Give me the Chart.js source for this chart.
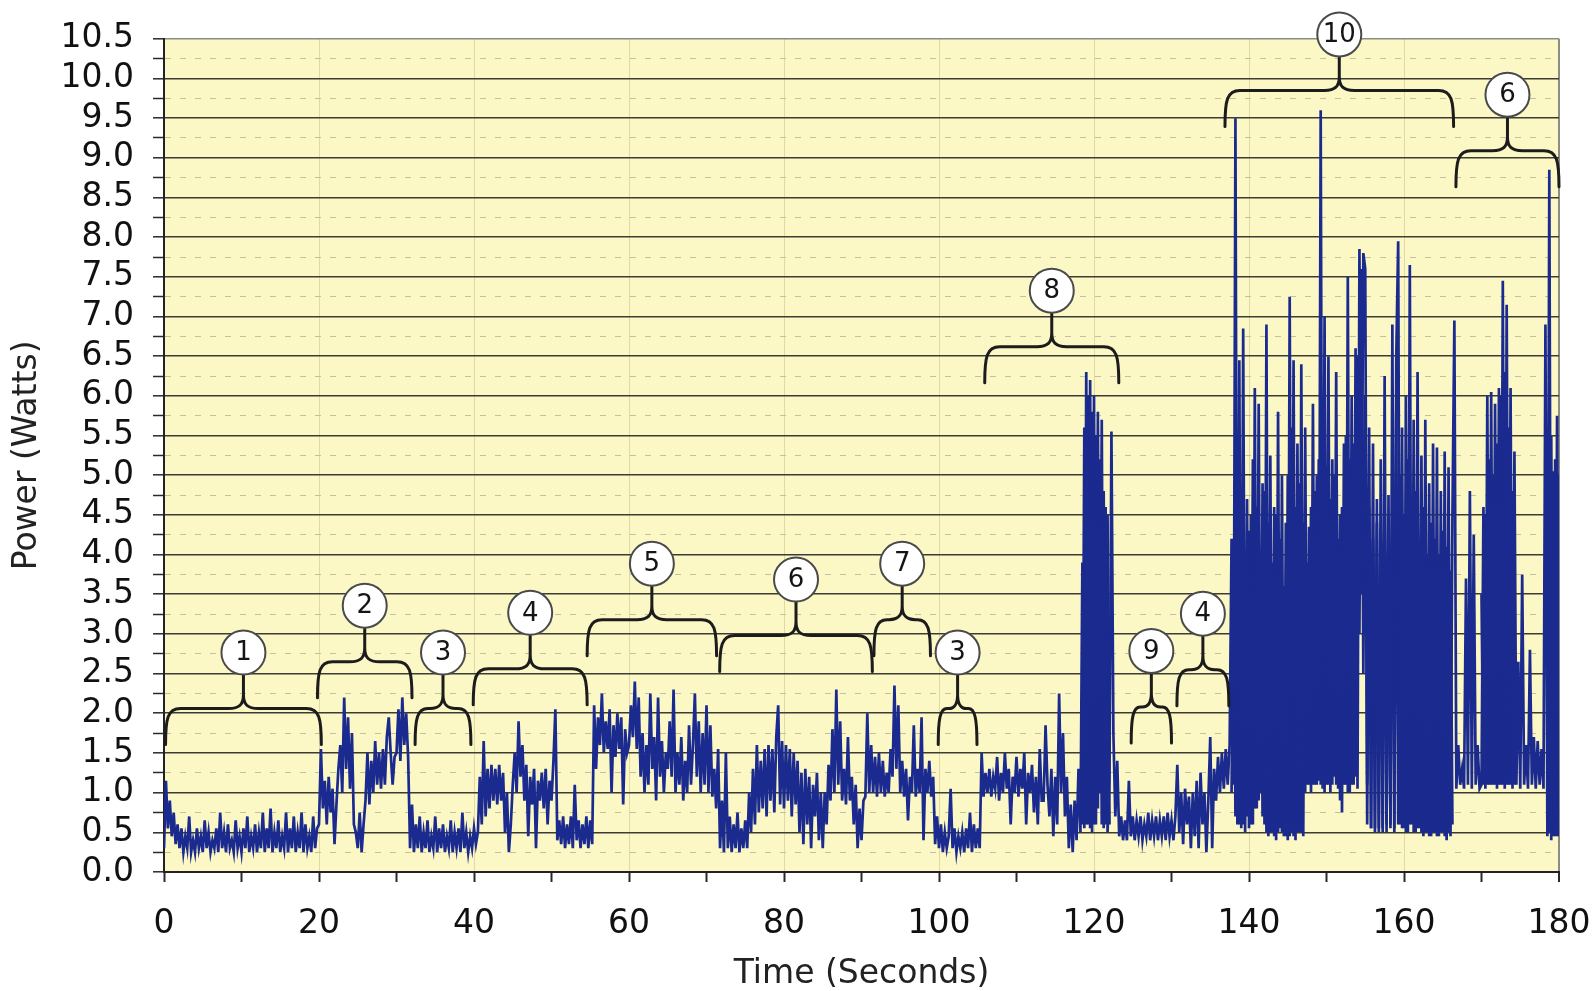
<!DOCTYPE html>
<html>
<head>
<meta charset="utf-8">
<title>Power trace</title>
<script src="https://cdn.jsdelivr.net/npm/chart.js@4.4.1/dist/chart.umd.min.js"></script>
<style>
  html, body { margin: 0; padding: 0; background: #ffffff; }
  #wrap { width: 1593px; height: 991px; position: relative; }
</style>
</head>
<body>
<div id="wrap"><canvas id="powerChart"></canvas></div>
<script>
// sampled power readings, one row per 5 seconds, 4 samples per second
const sampleStep = 0.25;
const blockSeconds = 5;
const powerBlocks = [
  [0.30,1.15,0.55,0.90,0.45,0.75,0.35,0.60,0.30,0.55,0.25,0.45,0.30,0.70,0.25,0.40,0.25,0.55,0.30,0.45],
  [0.25,0.65,0.30,0.50,0.25,0.40,0.30,0.55,0.25,0.75,0.30,0.50,0.25,0.60,0.30,0.40,0.25,0.65,0.30,0.45],
  [0.25,0.55,0.30,0.70,0.25,0.45,0.30,0.60,0.25,0.50,0.30,0.75,0.25,0.55,0.30,0.80,0.25,0.50,0.30,0.65],
  [0.25,0.45,0.30,0.75,0.25,0.55,0.30,0.70,0.25,0.50,0.30,0.75,0.25,0.60,0.30,0.45,0.25,0.70,0.30,0.55],
  [0.60,1.55,0.80,1.15,0.60,1.20,0.75,1.05,0.35,0.85,1.30,1.60,1.00,2.20,1.30,1.95,1.05,1.75,0.60,0.50],
  [0.30,0.75,0.25,0.60,0.90,1.50,0.85,1.40,1.00,1.65,1.10,1.50,1.05,1.55,1.10,1.70,1.95,1.50,1.10,1.45],
  [1.50,2.05,1.40,2.20,1.60,2.00,1.45,0.30,0.85,0.25,0.60,0.30,0.70,0.25,0.50,0.30,0.65,0.25,0.45,0.30],
  [0.70,0.25,0.55,0.30,0.60,0.25,0.45,0.30,0.65,0.25,0.50,0.30,0.55,0.25,0.75,0.30,0.50,0.25,0.45,0.30],
  [0.55,0.35,0.50,1.20,0.60,1.65,0.70,1.30,0.80,1.35,0.90,1.30,0.85,1.35,0.90,1.25,0.50,1.00,0.25,0.60],
  [1.10,1.50,1.00,1.90,1.20,1.60,0.90,1.35,0.45,1.20,0.85,1.30,0.30,1.15,0.90,1.25,0.80,1.30,0.60,1.15],
  [0.90,1.40,2.05,0.40,0.65,0.35,0.70,0.30,0.60,0.35,0.70,0.30,1.10,0.40,0.65,0.30,0.60,0.35,0.70,0.30],
  [0.65,0.35,2.10,1.30,1.95,1.60,2.25,1.50,1.90,1.55,2.05,1.00,1.85,1.45,2.00,1.55,1.95,0.85,1.80,1.50],
  [1.60,2.10,1.70,2.40,1.55,2.20,1.20,1.75,1.00,1.60,1.10,2.25,1.30,1.70,0.90,2.20,1.20,1.65,1.00,1.50],
  [1.30,1.90,1.20,2.30,1.00,1.50,1.10,1.70,0.90,1.40,1.00,1.85,1.10,1.60,2.25,1.20,1.90,1.00,1.75,1.10],
  [2.10,1.00,1.85,0.95,1.30,0.80,1.55,0.30,0.90,0.25,1.50,0.30,0.70,0.25,0.60,0.30,0.75,0.25,0.55,0.30],
  [0.65,0.30,1.00,0.50,1.30,0.60,1.60,0.75,1.40,0.80,1.55,0.70,1.60,0.90,1.55,0.75,1.70,2.10,0.85,1.65],
  [0.80,1.60,0.90,1.55,0.70,1.50,0.85,1.40,0.50,1.25,0.35,1.30,0.60,1.20,0.30,1.10,0.70,1.25,0.40,1.00],
  [0.30,1.00,0.60,1.35,0.90,1.80,1.00,2.30,1.10,1.90,0.90,1.30,0.85,1.70,0.90,1.20,0.60,1.10,0.30,0.80],
  [0.40,0.90,0.95,2.00,1.00,1.60,1.00,1.45,0.95,1.50,1.00,1.40,0.95,1.25,1.00,1.55,1.20,2.35,1.30,2.10],
  [1.00,1.40,0.95,1.30,0.65,1.20,1.00,1.85,0.95,1.30,1.00,1.95,0.40,1.30,1.00,1.40,0.95,1.20,0.35,0.70],
  [0.30,0.60,0.25,0.50,0.30,0.45,1.05,0.30,0.55,0.25,0.45,0.30,0.50,0.25,0.55,0.30,0.75,0.25,0.60,0.30],
  [0.55,0.30,1.50,0.95,1.25,1.00,1.30,0.95,1.20,1.05,1.45,0.90,1.25,1.00,1.50,1.05,1.30,0.60,1.20,1.00],
  [1.45,0.95,1.30,1.05,1.50,0.60,1.25,1.00,1.35,0.75,1.20,0.60,1.55,0.90,0.90,1.85,1.10,0.70,1.30,0.45],
  [1.20,0.60,2.25,1.00,1.75,0.70,1.20,0.30,0.85,0.25,0.90,0.40,1.30,0.50,3.90,0.55,6.30,0.60,6.20,0.50],
  [6.00,0.60,5.80,1.00,5.70,0.55,4.60,0.50,1.20,5.55,1.75,0.70,1.40,0.45,0.70,0.40,0.65,0.40,1.15,0.45],
  [0.70,0.40,0.65,0.45,0.70,0.40,0.60,0.45,0.75,0.40,0.65,0.45,0.70,0.40,0.65,0.45,0.70,0.40,0.75,0.45],
  [0.65,0.40,0.70,1.35,0.50,1.00,0.35,1.05,0.60,0.95,0.30,1.00,0.45,1.15,0.30,1.25,0.60,1.00,0.25,0.90],
  [1.70,0.30,1.30,0.90,1.45,1.00,1.50,1.05,1.55,1.10,1.60,4.20,1.10,9.50,0.60,6.45,0.55,6.85,0.50,4.70],
  [0.55,4.50,0.60,6.10,0.80,5.90,1.00,4.90,0.60,6.90,0.45,5.25,0.50,4.60,0.40,5.80,0.55,5.00,0.45,4.40],
  [0.40,7.25,0.50,6.45,0.40,5.40,0.50,6.40,0.45,5.60,1.10,4.35,1.00,5.90,1.10,5.00,1.15,9.60,1.05,7.00],
  [1.10,6.50,1.00,5.20,1.20,6.30,1.05,4.50,0.75,5.40,1.10,7.50,1.00,6.00,1.10,6.60,1.05,7.85,3.50,7.80],
  [7.60,1.10,5.60,0.55,5.40,0.50,4.70,0.55,5.20,0.50,6.25,0.60,4.75,0.55,6.90,0.50,6.50,7.95,0.60,5.60],
  [0.55,6.00,0.50,7.65,0.60,5.70,0.50,6.30,0.55,5.25,0.45,5.70,0.50,4.90,0.45,5.40,0.50,5.35,0.45,4.80],
  [0.50,5.30,0.40,5.10,0.45,4.50,6.95,1.05,1.60,1.10,1.30,1.05,3.70,1.10,4.80,1.05,4.25,1.10,1.60,1.05],
  [1.10,4.60,1.05,6.00,1.10,6.05,1.10,5.90,1.05,6.10,1.10,7.45,1.05,7.15,1.10,6.10,1.05,5.30,1.10,2.65],
  [1.05,3.75,1.10,1.60,1.05,2.80,1.10,1.70,1.05,1.65,1.10,1.55,1.05,6.90,0.45,8.85,0.40,5.05,0.45,5.75,0.45]
];

// extra readings inside the dense bursts (same 0.25 s grid, opposite phase)
const burst8Start = 118.5;
const burst8Power = [0.60,5.60,0.60,6.00,0.55,5.80,0.60,5.50,0.80,5.20,0.60,4.80,0.60,4.50,0.60];
const burst10Start = 137.75;
const burst10Power = [
  1.00,4.00,0.70,5.00,0.60,4.20,0.60,3.80,0.70,4.30,
  0.60,5.20,0.80,4.60,0.90,3.90,0.70,4.80,0.50,4.40,
  0.50,3.90,0.45,4.50,0.50,4.20,0.50,3.60,0.45,5.00,
  0.45,5.60,0.45,4.60,0.50,4.90,0.50,4.40,1.00,3.90,
  1.10,4.60,1.10,4.80,1.10,5.20,1.10,5.60,1.00,5.10,
  1.10,4.70,1.10,5.00,1.10,4.20,0.90,4.60,1.10,5.50,
  1.00,5.20,1.10,5.40,1.20,6.50,3.00,7.60,2.50,6.00,
  0.60,4.60,0.55,4.20,0.55,4.40,0.50,4.00,0.55,4.60,
  0.50,4.30,0.60,5.20,0.55,5.80,0.60,5.00,0.55,4.50,
  0.50,5.20,0.60,4.40,0.50,4.80,0.55,4.10,0.50,4.60,
  0.50,4.00,0.45,4.40,0.50,4.20,0.45,4.00,0.50,4.30,
  0.45,4.10,0.50,3.80,0.60
];
const burst6Start = 170.0;
const burst6Power = [
  3.50,1.10,4.50,1.10,5.20,1.10,5.00,1.10,5.40,1.10,6.00,1.10,6.30,1.10,5.60,1.10,4.80,1.10,2.40,
  null,null,null,null,null,null,null,null,null,null,null,null,null,null,null,
  5.00,0.50,5.50,0.45,5.20,0.45,5.00
];

// numbered activity phases (seconds) and the power level of each brace
const braceLabels = ['1', '2', '3', '4', '5', '6', '7', '3', '8', '9', '4', '10', '6'];
const braceStart  = [0.2, 19.8, 32.4, 39.9, 54.6, 71.7, 91.6, 99.9, 105.9, 124.8, 130.7, 136.9, 166.7];
const braceEnd    = [20.3, 32.0, 39.6, 54.6, 71.3, 91.4, 98.9, 104.9, 123.2, 130.0, 137.4, 166.4, 180.0];
const braceLevel  = [2.06, 2.65, 2.06, 2.56, 3.18, 2.98, 3.18, 2.06, 6.62, 2.08, 2.55, 9.85, 9.09];

const points = [];
powerBlocks.forEach((row, b) => {
  row.forEach((w, j) => points.push({ x: b * blockSeconds + j * sampleStep, y: w }));
});
const toPoints = (start, vals) => vals.map((w, j) => ({ x: start + j * sampleStep, y: w }));

const isHalf = v => Math.round(v * 4) % 2 === 0;
const traceColor = '#1b2a8e';
const traceStyle = { borderColor: traceColor, borderWidth: 2.7, pointRadius: 0, tension: 0, fill: false };

// yellow plot background
const plotBg = {
  id: 'plotBg',
  beforeDraw(chart) {
    const { ctx, chartArea: a } = chart;
    ctx.save();
    ctx.fillStyle = '#fcf8c6';
    ctx.fillRect(a.left, a.top, a.right - a.left, a.bottom - a.top);
    ctx.restore();
  }
};

// curly braces + numbered bubbles
const braces = {
  id: 'braces',
  afterDraw(chart) {
    const { ctx, scales: { x, y } } = chart;
    ctx.save();
    braceLabels.forEach((label, i) => {
      const x1 = x.getPixelForValue(braceStart[i]);
      const x2 = x.getPixelForValue(braceEnd[i]);
      const xm = (x1 + x2) / 2;
      const r = Math.min(15, (x2 - x1) / 4 - 1);
      const yb = y.getPixelForValue(braceLevel[i]);
      const yl = yb + 36;
      const yt = yb - 35;
      ctx.beginPath();
      ctx.moveTo(x1, yl);
      ctx.bezierCurveTo(x1, yb + 10, x1 + 2, yb, x1 + r, yb);
      ctx.lineTo(xm - r, yb);
      ctx.bezierCurveTo(xm - 4, yb, xm, yb - 4, xm, yb - 14);
      ctx.lineTo(xm, yt);
      ctx.moveTo(xm, yb - 14);
      ctx.bezierCurveTo(xm, yb - 4, xm + 4, yb, xm + r, yb);
      ctx.lineTo(x2 - r, yb);
      ctx.bezierCurveTo(x2 - 2, yb, x2, yb + 10, x2, yl);
      ctx.lineWidth = 3;
      ctx.lineCap = 'round';
      ctx.lineJoin = 'round';
      ctx.strokeStyle = '#1c1c1c';
      ctx.stroke();

      const cy = yt - 21;
      ctx.beginPath();
      ctx.arc(xm, cy, 22, 0, Math.PI * 2);
      ctx.fillStyle = '#ffffff';
      ctx.fill();
      ctx.lineWidth = 2;
      ctx.strokeStyle = '#4a4a4a';
      ctx.stroke();
      ctx.fillStyle = '#151515';
      ctx.font = '26px "DejaVu Sans"';
      ctx.textAlign = 'center';
      ctx.textBaseline = 'middle';
      ctx.fillText(label, xm, cy + 1);
    });
    ctx.restore();
  }
};

const ctx = document.getElementById('powerChart').getContext('2d');
const powerChart = new Chart(ctx, {
  type: 'line',
  data: {
    datasets: [
      { label: 'Power', data: points, ...traceStyle },
      { label: 'Burst 8', data: toPoints(burst8Start, burst8Power), ...traceStyle },
      { label: 'Burst 10', data: toPoints(burst10Start, burst10Power), ...traceStyle },
      { label: 'Burst 6', data: toPoints(burst6Start, burst6Power), ...traceStyle }
    ]
  },
  options: {
    responsive: true,
    maintainAspectRatio: false,
    animation: false,
    layout: { padding: { top: 31, right: 34, left: 0, bottom: 0 } },
    plugins: {
      legend: { display: false },
      tooltip: { enabled: false }
    },
    scales: {
      x: {
        type: 'linear',
        min: 0,
        max: 180,
        afterFit: s => { s.height = 119; s.paddingRight = 0; s.paddingLeft = 0; },
        ticks: {
          stepSize: 10,
          autoSkip: false,
          maxRotation: 0,
          padding: 23,
          color: '#111',
          font: { family: 'DejaVu Sans', size: 33 },
          callback: v => (v % 20 === 0 ? String(v) : '')
        },
        grid: {
          color: c => {
            if (!c.tick) return 'rgba(0,0,0,0)';
            if (c.tick.value === 180) return '#8c8c84';
            return (c.tick.value % 20 === 0 && c.tick.value > 0) ? 'rgba(190,180,120,0.45)' : 'rgba(0,0,0,0)';
          },
          lineWidth: c => (c.tick && c.tick.value === 180 ? 2 : 1),
          tickColor: '#2a2a2a',
          tickLength: 10,
          tickWidth: 2
        },
        border: { color: '#222', width: 2 },
        title: {
          display: true,
          text: 'Time (Seconds)',
          color: '#222',
          font: { family: 'DejaVu Sans', size: 33, lineHeight: 1.0 },
          padding: { top: 0, bottom: 0 }
        }
      },
      y: {
        min: 0,
        max: 10.5,
        afterFit: s => { s.width = 164; },
        ticks: {
          stepSize: 0.25,
          autoSkip: false,
          padding: 19,
          color: '#111',
          font: { family: 'DejaVu Sans', size: 33 },
          callback: v => (isHalf(v) ? v.toFixed(1) : '')
        },
        grid: {
          color: c => {
            if (!c.tick) return '#3c3c34';
            if (c.tick.value >= 10.5) return '#8c8c84';
            return isHalf(c.tick.value) ? '#3c3c34' : '#c4bf9e';
          },
          lineWidth: c => (c.tick && isHalf(c.tick.value) ? 1.6 : 1),
          tickColor: '#2a2a2a',
          tickLength: 11,
          tickWidth: 1.5
        },
        border: {
          color: '#222',
          width: 2,
          dash: c => (c.tick && !isHalf(c.tick.value) ? [6, 9] : [])
        },
        title: {
          display: true,
          text: 'Power (Watts)',
          color: '#222',
          font: { family: 'DejaVu Sans', size: 33 },
          padding: { top: 8, bottom: 0 }
        }
      }
    }
  },
  plugins: [plotBg, braces]
});
</script>
</body>
</html>
